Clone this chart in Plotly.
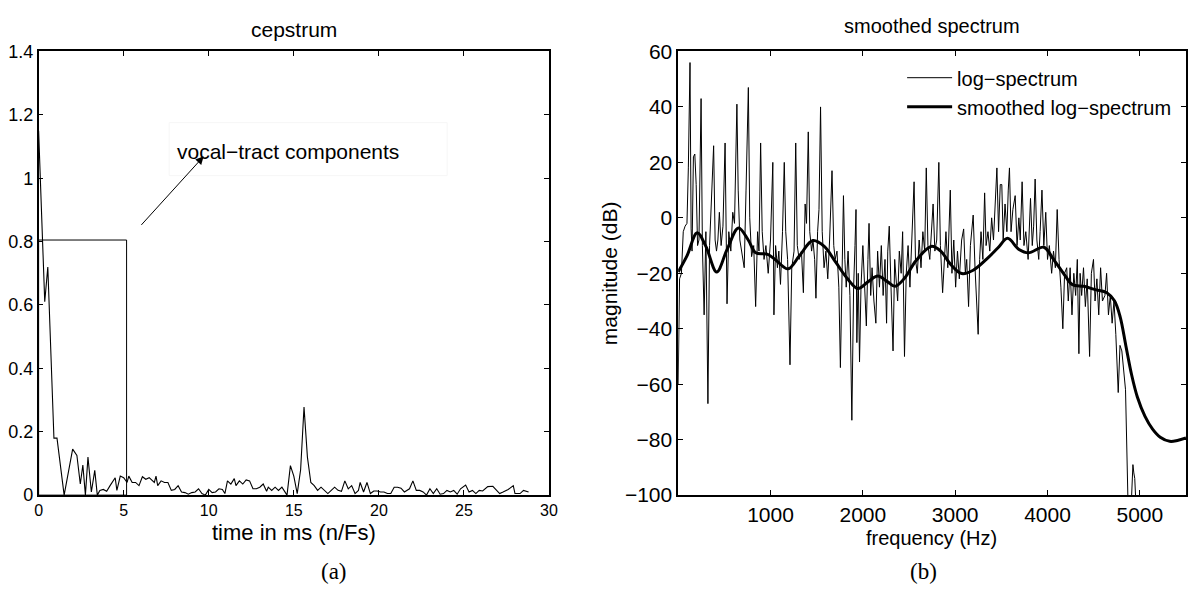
import plotly.graph_objects as go

# ---- data ----
# (a) cepstrum: time in ms vs magnitude
cep_t = [0, 0.36, 0.54, 0.9, 1.08, 1.5, 2.0, 2.25, 2.45, 2.6, 2.75, 2.9, 3.1, 3.3, 3.45,
         3.6, 3.8, 4.0, 4.2, 4.4, 4.5, 4.6, 4.8, 5.0, 5.2, 5.3, 5.5, 5.7, 5.9, 6.1, 6.3,
         6.5, 6.8, 6.9, 7.0, 7.2, 7.4, 7.6, 7.8, 8.0, 8.2, 8.4, 8.6, 8.8, 9.0, 9.2, 9.4,
         9.6, 9.8, 10.0, 10.2, 10.4, 10.6, 10.8, 10.95, 11.1, 11.3, 11.5, 11.6, 11.8, 12.0,
         12.2, 12.4, 12.6, 12.8, 13.0, 13.2, 13.4, 13.5, 13.7, 13.9, 14.1, 14.3, 14.6, 14.8,
         15.0, 15.2, 15.4, 15.6, 15.8, 16.0, 16.2, 16.4, 16.6, 16.8, 17.0, 17.2, 17.4, 17.6,
         17.8, 18.0, 18.2, 18.4, 18.6, 18.8, 18.9, 19.1, 19.3, 19.5, 19.7, 19.9, 20.1, 20.3,
         20.5, 20.7, 20.9, 21.1, 21.3, 21.5, 21.8, 22.0, 22.2, 22.4, 22.6, 22.8, 23.0, 23.2,
         23.4, 23.6, 23.8, 24.0, 24.2, 24.4, 24.6, 24.8, 25.1, 25.3, 25.5, 25.7, 25.9, 26.1,
         26.4, 26.7, 26.9, 27.1, 27.3, 27.6, 27.9, 28.0, 28.3, 28.5, 28.8]
cep_val = [1.15, 0.61, 0.72, 0.18, 0.18, 0.0, 0.145, 0.125, 0.035, 0.095, 0.0, 0.12, 0.01,
           0.078, 0.0, 0.015, 0.018, 0.012, 0.03, 0.05, 0.055, 0.015, 0.06, 0.055, 0.04,
           0.06, 0.04, 0.04, 0.03, 0.058, 0.05, 0.055, 0.04, 0.06, 0.03, 0.045, 0.04, 0.04,
           0.015, 0.018, 0.03, 0.01, 0.008, 0.003, 0.008, 0.01, 0.02, 0.005, 0.0, 0.018,
           0.008, 0.01, 0.02, 0.018, 0.005, 0.045, 0.035, 0.052, 0.03, 0.045, 0.035, 0.048,
           0.045, 0.02, 0.02, 0.025, 0.035, 0.012, 0.025, 0.015, 0.025, 0.015, 0.025, 0.0,
           0.093, 0.06, 0.005, 0.08, 0.278, 0.12, 0.04, 0.03, 0.015, 0.025, 0.015, 0.005,
           0.015, 0.025, 0.015, 0.012, 0.045, 0.02, 0.03, 0.005, 0.015, 0.04, 0.01, 0.04,
           0.005, 0.013, 0.013, 0.01, 0.01, 0.005, 0.005, 0.025, 0.025, 0.022, 0.01, 0.02,
           0.045, 0.015, 0.015, 0.01, 0.0, 0.02, 0.005, 0.02, 0.003, 0.005, 0.015, 0.01,
           0.015, 0.003, 0.02, 0.032, 0.01, 0.015, 0.005, 0.015, 0.013, 0.027, 0.028, 0.015,
           0.005, 0.01, 0.018, 0.03, 0.005, 0.005, 0.015, 0.01]

# (b) log-spectrum: frequency in Hz vs dB
spec_f = [0, 15, 35, 55, 75, 95, 110, 128, 140, 150, 165, 180, 195, 210, 225, 248, 262, 281,
          300, 322, 340, 360, 384, 400, 415, 430, 446, 465, 485, 508, 529, 548, 570, 591, 610,
          636, 650, 668, 690, 715, 735, 760, 775, 795, 818, 839, 860, 875, 893, 910, 930, 950,
          975, 1000, 1025, 1037, 1055, 1075, 1090, 1108, 1130, 1149, 1165, 1185, 1211, 1230,
          1255, 1273, 1290, 1310, 1335, 1356, 1375, 1390, 1409, 1425, 1445, 1460, 1478, 1492,
          1510, 1525, 1542, 1560, 1580, 1600, 1620, 1640, 1666, 1685, 1700, 1720, 1740, 1757,
          1775, 1790, 1805, 1820, 1840, 1860, 1881, 1900, 1915, 1926, 1935, 1950, 1964, 1980,
          2000, 2020, 2038, 2055, 2067, 2085, 2100, 2120, 2141, 2160, 2180, 2200, 2220, 2240,
          2257, 2270, 2286, 2305, 2327, 2345, 2360, 2377, 2395, 2415, 2431, 2451, 2470, 2490,
          2510, 2530, 2555, 2570, 2590, 2610, 2630, 2650, 2670, 2687, 2705, 2725, 2740, 2761,
          2780, 2800, 2823, 2840, 2864, 2880, 2900, 2920, 2947, 2965, 2985, 3005, 3025, 3045,
          3070, 3092, 3110, 3125, 3145, 3165, 3195, 3215, 3249, 3265, 3280, 3300, 3319, 3335,
          3355, 3375, 3395, 3415, 3432, 3452, 3470, 3488, 3505, 3520, 3540, 3560, 3575, 3588,
          3605, 3625, 3650, 3670, 3690, 3705, 3725, 3745, 3765, 3790, 3816, 3835, 3850, 3866,
          3885, 3905, 3920, 3940, 3960, 3981, 4000, 4020, 4045, 4065, 4085, 4105, 4125, 4145,
          4166, 4185, 4208, 4225, 4245, 4265, 4285, 4305, 4323, 4340, 4353, 4370, 4390, 4410,
          4430, 4456, 4475, 4498, 4515, 4535, 4555, 4575, 4595, 4622, 4640, 4660, 4680, 4700,
          4720, 4740, 4766, 4785, 4805, 4825, 4845, 4870, 4880, 4905, 4925, 4935, 4945, 4960,
          4990, 5200, 5500]
spec_db = [-60, -22, -20, -5, -3, -2, 18, 56, -4, -12, 22, 23, 12, -10, -8, 43, -10, -35,
           -5, -67, -10, 8, 26, -8, -12, -8, 2, -10, -3, 27, -31, -5, -12, 2, -2,
           41, 10, -8, -12, -18, 10, 47, 0, -14, -10, -32, -5, -12, 27, -5, -15, -10,
           -20, -8, 20, -35, -10, -18, -12, -24, -5, 20, -5, -15, -53, -18,
           -12, 27, -10, -15, -12, -27, 5, -2, 31, -5, -12, -8, -15, -29,
           -5, 3, 40, -5, -18, -12, -22, -8, 17, -10, -15, -12, -25, -54,
           -20, 8, -15, -25, -12, -28, -73, -25, -10, 3, -45, -20, -52, -25,
           -10, -28, -39, -15, -2, -28, -18, -30, -38, -12, -25, -10, -28, -15,
           -38, -12, -3, -25, -48, -15, -22, -30, -12, -20, -5, -50, -20, -10,
           -25, -5, 13, -15, -20, -8, -18, -5, -12, 18, -10, -15, -5, 5,
           -12, -8, 20, -10, -27, -15, -5, -18, 10, -20, -8, -25, -12, -22,
           -8, -4, -20, -15, -32, -10, 1, -18, -42, -15, -5, -15, 9, -10,
           -5, -12, 0, -8, 5, 18, -5, 12, 12, -8, 5, -5, 10, 18,
           -5, 3, 8, -10, 0, -8, 13, -10, -5, -15, 7, -10, -3, 14,
           -8, -15, -5, 10, -10, 2, -15, -10, -20, -12, -18, 3, -15, -25,
           -40, -20, -18, -30, -18, -35, -20, -28, -15, -49, -20, -28, -18, -32,
           -22, -50, -20, -15, -30, -22, -35, -18, -30, -28, -20, -35, -28, -38,
           -30, -42, -63, -46, -48, -55, -62, -100, -115, -105, -89, -92, -94, -105,
           -125, -130, -130]

# smoothed (liftered) log-spectrum
smooth_f = [0, 95, 206, 300, 417, 530, 653, 757, 840, 963, 1046, 1190, 1313, 1458, 1582,
            1706, 1830, 1946, 2058, 2162, 2265, 2348, 2451, 2575, 2740, 2844, 2947, 3071,
            3195, 3340, 3464, 3567, 3691, 3794, 3960, 4063, 4187, 4270, 4394, 4518, 4642,
            4725, 4787, 4849, 4911, 4973, 5056, 5138, 5221, 5324, 5407, 5500]
smooth_db = [-19.5, -13.7, -5.4, -10.3, -19.5, -11.4, -3.7, -7.9, -12.6, -13.1, -14.9, -18.4,
             -13.7, -8.2, -10.3, -16, -21.8, -25.5, -23, -21, -23, -24.7, -21.8, -15.5, -10.3,
             -12, -16.6, -20.1, -18.9, -14.9, -10.8, -7.4, -11.4, -12.6, -10.6, -14.9, -20.7,
             -24.1, -24.7, -25.9, -27, -29.9, -35.7, -46.2, -56.6, -64.6, -71.6, -76.2, -79.1,
             -80.6, -80.3, -79.4]

W, H = 1195, 612
FONT = "Liberation Sans, Arial, sans-serif"


def px(x):
    return x / W


def py(y):
    return 1 - y / H


fig = go.Figure()

fig.add_trace(go.Scatter(x=cep_t, y=cep_val, mode="lines", line=dict(color="black", width=1.1),
                         showlegend=False, xaxis="x", yaxis="y"))
fig.add_trace(go.Scatter(x=spec_f, y=spec_db, mode="lines", line=dict(color="black", width=1),
                         name="log\u2212spectrum", xaxis="x2", yaxis="y2"))
fig.add_trace(go.Scatter(x=smooth_f, y=smooth_db, mode="lines",
                         line=dict(color="black", width=3, shape="spline", smoothing=1.0),
                         name="smoothed log\u2212spectrum", xaxis="x2", yaxis="y2"))

axis_common = dict(showline=True, linecolor="black", linewidth=1.5, mirror="ticks",
                   ticks="inside", ticklen=5, tickcolor="black", showgrid=False,
                   zeroline=False)

fig.update_layout(
    width=W, height=H,
    margin=dict(l=0, r=0, t=0, b=0),
    paper_bgcolor="white", plot_bgcolor="white",
    font=dict(family=FONT, color="black"),
    xaxis=dict(domain=[px(35), px(551)], range=[0, 30], dtick=5, anchor="y",
               tickfont=dict(size=16), **axis_common),
    yaxis=dict(domain=[py(502), py(41)], range=[0, 1.4], dtick=0.2, anchor="x",
               tickfont=dict(size=18), **axis_common),
    xaxis2=dict(domain=[px(681.6), 1.0], range=[0, 5500],
                tickvals=[1000, 2000, 3000, 4000, 5000], anchor="y2",
                tickfont=dict(size=21), **axis_common),
    yaxis2=dict(domain=[py(502), py(41)], range=[-100, 60], dtick=20, anchor="x2",
                tickfont=dict(size=21), **axis_common),
    legend=dict(x=px(908), y=py(48), xanchor="left", yanchor="top",
                bgcolor="rgba(0,0,0,0)", font=dict(size=20), itemwidth=45,
                tracegroupgap=0),
    showlegend=True,
)

# vocal-tract window
fig.add_shape(type="rect", xref="x", yref="y", x0=0, x1=5.17, y0=0, y1=0.805,
              line=dict(color="black", width=1))
# faint frame round the annotation text
fig.add_shape(type="rect", xref="paper", yref="paper", x0=px(167), x1=px(448),
              y0=py(170), y1=py(115), line=dict(color="#f6f6f6", width=1))

ann = [
    dict(text="cepstrum", x=px(293), y=py(18), size=21),
    dict(text="smoothed spectrum", x=px(938), y=py(15), size=20),
    dict(text="time in ms (n/Fs)", x=px(293), y=py(541), size=22),
    dict(text="frequency (Hz)", x=px(938), y=py(547), size=20),
]
for a in ann:
    fig.add_annotation(text=a["text"], x=a["x"], y=a["y"], xref="paper", yref="paper",
                       showarrow=False, xanchor="center", yanchor="middle",
                       font=dict(size=a["size"], family=FONT))

fig.add_annotation(text="magnitude (dB)", x=px(612), y=py(271), xref="paper", yref="paper",
                   showarrow=False, textangle=-90, font=dict(size=21, family=FONT))
fig.add_annotation(text="vocal\u2212tract components", x=px(173), y=py(131),
                   xref="paper", yref="paper", showarrow=False, xanchor="left",
                   font=dict(size=21, family=FONT))
fig.add_annotation(x=9.70, y=1.069, ax=5.96, ay=0.848, xref="x", yref="y", axref="x",
                   ayref="y", text="", showarrow=True, arrowhead=2, arrowsize=1.6,
                   arrowwidth=1, arrowcolor="black")

for lab, xc in [("(a)", 318), ("(b)", 945)]:
    fig.add_annotation(text=lab, x=px(xc), y=py(596), xref="paper", yref="paper",
                       showarrow=False, font=dict(size=23, family="Liberation Serif, serif"))

fig.write_html("out.html", config={"displayModeBar": False},
               post_script="document.body.style.margin='0';document.body.style.overflow='hidden';")
